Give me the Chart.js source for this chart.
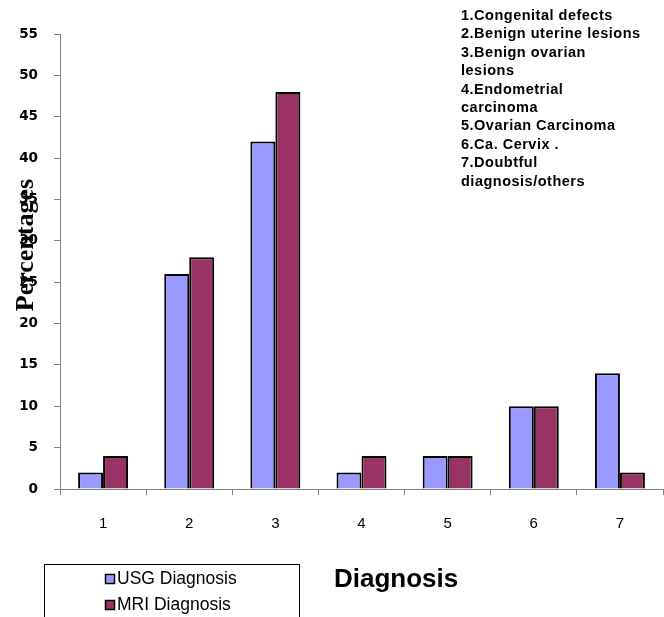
<!DOCTYPE html>
<html>
<head>
<meta charset="utf-8">
<script src="https://cdn.jsdelivr.net/npm/chart.js@4/dist/chart.umd.min.js"></script>
<style>
  body { margin: 0; background: #fff; }
  #wrap { width: 664px; height: 617px; position: relative; }
</style>
</head>
<body>
<div id="wrap"><canvas id="diagChart" width="664" height="617"></canvas></div>
<script>
const categories = ['1', '2', '3', '4', '5', '6', '7'];
const usgValues = [2, 26, 42, 2, 4, 10, 14];
const mriValues = [4, 28, 48, 4, 4, 10, 2];
const seriesNames = ['USG Diagnosis', 'MRI Diagnosis'];
const keyLines = [
  '1.Congenital defects',
  '2.Benign uterine lesions',
  '3.Benign ovarian',
  'lesions',
  '4.Endometrial',
  'carcinoma',
  '5.Ovarian Carcinoma',
  '6.Ca. Cervix .',
  '7.Doubtful',
  'diagnosis/others'
];

// extra text: y title, category key, legend box, x title
const decorations = {
  id: 'decorations',
  afterDraw(chart) {
    const ctx = chart.ctx;
    ctx.save();
    ctx.fillStyle = '#000';

    // y axis title (overlaps tick labels like the original)
    ctx.save();
    ctx.translate(26, 245);
    ctx.rotate(-Math.PI / 2);
    ctx.font = 'bold 26px "Liberation Serif", serif';
    ctx.textAlign = 'center';
    ctx.textBaseline = 'middle';
    ctx.fillText('Percentages', 0, 0);
    ctx.restore();

    // category key
    ctx.save();
    ctx.font = 'bold 14.5px "Liberation Sans", Arial, sans-serif';
    ctx.letterSpacing = '0.5px';
    ctx.textAlign = 'left';
    ctx.textBaseline = 'middle';
    keyLines.forEach((t, i) => ctx.fillText(t, 461, 16 + i * 18.4));
    ctx.restore();

    // legend box
    ctx.strokeStyle = '#000';
    ctx.lineWidth = 1;
    ctx.strokeRect(44.5, 564.5, 255, 60);
    ctx.font = '17.5px "Liberation Sans", Arial, sans-serif';
    ctx.textAlign = 'left';
    ctx.textBaseline = 'middle';
    chart.data.datasets.forEach((ds, i) => {
      const y = 579 + i * 26;
      ctx.fillStyle = ds.backgroundColor;
      ctx.fillRect(105, y - 5, 10, 10);
      ctx.lineWidth = 1.5;
      ctx.strokeRect(105.5, y - 4.5, 9, 9);
      ctx.fillStyle = '#000';
      ctx.fillText(ds.label, 117, y);
    });

    // x axis title
    ctx.font = 'bold 26px "Liberation Sans", Arial, sans-serif';
    ctx.fillText('Diagnosis', 334, 580);
    ctx.restore();
  }
};

new Chart(document.getElementById('diagChart'), {
  type: 'bar',
  data: {
    labels: categories,
    datasets: [
      {
        label: seriesNames[0],
        data: usgValues,
        backgroundColor: '#9999FF',
        borderColor: '#000',
        borderWidth: 2
      },
      {
        label: seriesNames[1],
        data: mriValues,
        backgroundColor: '#993366',
        borderColor: '#000',
        borderWidth: 2
      }
    ]
  },
  options: {
    responsive: false,
    animation: false,
    layout: { padding: { top: 34, right: 1, left: 0, bottom: 0 } },
    datasets: { bar: { categoryPercentage: 0.58, barPercentage: 1 } },
    plugins: {
      legend: { display: false },
      tooltip: { enabled: false }
    },
    scales: {
      x: {
        grid: { display: true, drawOnChartArea: false, offset: true, tickLength: 6, color: '#808080' },
        border: { color: '#808080' },
        ticks: { color: '#000', font: { family: '"Liberation Sans", Arial, sans-serif', size: 15 }, padding: 20 },
        afterFit(scale) { scale.height = 128; }
      },
      y: {
        min: 0,
        max: 55,
        grid: { display: true, drawOnChartArea: false, tickLength: 6, color: '#808080' },
        border: { color: '#808080' },
        ticks: {
          stepSize: 5,
          color: '#000',
          font: { family: '"DejaVu Sans", sans-serif', size: 13.5, weight: 'bold' },
          padding: 16
        },
        afterFit(scale) { scale.width = 60; }
      }
    }
  },
  plugins: [decorations]
});
</script>
</body>
</html>
